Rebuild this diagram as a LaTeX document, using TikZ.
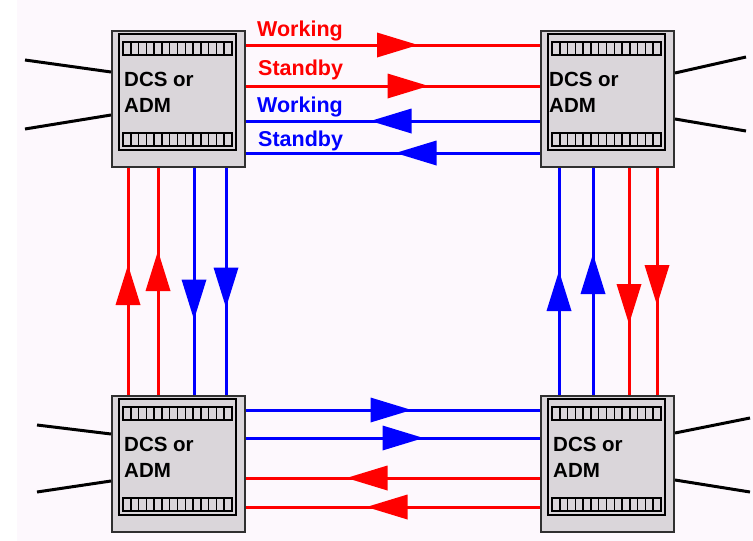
\documentclass[tikz,border=0pt]{standalone}
\usepackage{fontspec}
\setmainfont{Liberation Sans}
\definecolor{bg}{HTML}{FDF8FD}
\definecolor{boxfill}{HTML}{DAD6DA}
\definecolor{boxline}{HTML}{303030}
\definecolor{rd}{HTML}{FF0000}
\definecolor{bl}{HTML}{0000FF}
\tikzset{
  rl/.style={draw=rd, line width=3pt},
  bll/.style={draw=bl, line width=3pt},
  ext/.style={draw=black, line width=3pt},
  outerbox/.style={draw=boxline, fill=boxfill, line width=2pt, minimum width=133pt, minimum height=136pt, inner sep=0pt},
  boxtxt/.style={anchor=base west, inner sep=0pt, font=\fontsize{20.5}{20.5}\selectfont\bfseries},
  lbl/.style={anchor=base west, inner sep=0pt, font=\fontsize{21.5}{21.5}\selectfont\bfseries},
  arR/.pic={\fill (-20.5,-12.5) -- (20.5,0) -- (-20.5,12.5) -- cycle;},
  arL/.pic={\fill (20.5,-12.5) -- (-20.5,0) -- (20.5,12.5) -- cycle;},
  arU/.pic={\fill (-12.5,20) -- (0,-20) -- (12.5,20) -- cycle;},
  arD/.pic={\fill (-12.5,-20) -- (0,20) -- (12.5,-20) -- cycle;},
}
\newcommand{\dcsbox}[4]{%
  \begin{scope}[shift={(#2,#3)}]
    \node[outerbox] (#1) at (67.5,69) {};
    \draw[black, line width=2pt] (8,4) rectangle (125,120);
    \draw[black, line width=2pt] (12,12) rectangle (121,25);
    \draw[black, line width=2pt] (12,103) rectangle (121,116);
    \foreach \i in {1,...,13}{
      \draw[black, line width=1.5pt] ({12+\i*109/14},12) -- ({12+\i*109/14},25);
      \draw[black, line width=1.5pt] ({12+\i*109/14},103) -- ({12+\i*109/14},116);
    }
    \node[boxtxt] (#1-a) at (#4,56) {DCS or};
    \node[boxtxt] (#1-b) at (#4,82) {ADM};
  \end{scope}
}
\begin{document}
\begin{tikzpicture}[x=1pt,y=-1pt]
\useasboundingbox (0,0) rectangle (753,541);
\fill[bg] (0,0) rectangle (753,541);
\fill[white] (0,0) rectangle (17,541);

\dcsbox{TL}{111}{30}{13}
\dcsbox{TR}{540}{30}{9}
\dcsbox{BL}{111}{395}{13}
\dcsbox{BR}{540}{395}{13}

% top horizontal links
\draw[rl]  (TL.east |- 0,45)  -- (TR.west |- 0,45);
\draw[rl]  (TL.east |- 0,86)  -- (TR.west |- 0,86);
\draw[bll] (TL.east |- 0,121) -- (TR.west |- 0,121);
\draw[bll] (TL.east |- 0,153) -- (TR.west |- 0,153);
\pic[rd] at (397.5,45) {arR};
\pic[rd] at (408,86) {arR};
\pic[bl] at (391,121) {arL};
\pic[bl] at (416,153) {arL};
\node[lbl, text=rd] (l1) at (257,36) {Working};
\node[lbl, text=rd] (l2) at (258,75) {Standby};
\node[lbl, text=bl] (l3) at (257,112) {Working};
\node[lbl, text=bl] (l4) at (258,146) {Standby};

% bottom horizontal links
\draw[bll] (BL.east |- 0,410) -- (BR.west |- 0,410);
\draw[bll] (BL.east |- 0,438) -- (BR.west |- 0,438);
\draw[rl]  (BL.east |- 0,478) -- (BR.west |- 0,478);
\draw[rl]  (BL.east |- 0,507) -- (BR.west |- 0,507);
\pic[bl] at (391,410) {arR};
\pic[bl] at (403,438) {arR};
\pic[rd] at (367,478) {arL};
\pic[rd] at (387,507) {arL};

% left vertical links
\draw[rl]  (TL.south -| 128,0) -- (BL.north -| 128,0);
\draw[rl]  (TL.south -| 158,0) -- (BL.north -| 158,0);
\draw[bll] (TL.south -| 194,0) -- (BL.north -| 194,0);
\draw[bll] (TL.south -| 226,0) -- (BL.north -| 226,0);
\pic[rd] at (128,285) {arU};
\pic[rd] at (158,271) {arU};
\pic[bl] at (194,299.5) {arD};
\pic[bl] at (226,287.5) {arD};

% right vertical links
\draw[bll] (TR.south -| 559,0) -- (BR.north -| 559,0);
\draw[bll] (TR.south -| 593,0) -- (BR.north -| 593,0);
\draw[rl]  (TR.south -| 629,0) -- (BR.north -| 629,0);
\draw[rl]  (TR.south -| 657,0) -- (BR.north -| 657,0);
\pic[bl] at (559,291) {arU};
\pic[bl] at (593,274) {arU};
\pic[rd] at (629,304) {arD};
\pic[rd] at (657,285) {arD};

% external tributaries
\coordinate (e1) at (25,60);
\coordinate (e2) at (25,129);
\coordinate (e3) at (37,425);
\coordinate (e4) at (37,492);
\coordinate (e5) at (746,57);
\coordinate (e6) at (746,131);
\coordinate (e7) at (750,418);
\coordinate (e8) at (750,492);
\draw[ext] (e1) -- (TL.west |- 0,72);
\draw[ext] (e2) -- (TL.west |- 0,115);
\draw[ext] (e3) -- (BL.west |- 0,434);
\draw[ext] (e4) -- (BL.west |- 0,481);
\draw[ext] (e5) -- (TR.east |- 0,73);
\draw[ext] (e6) -- (TR.east |- 0,119);
\draw[ext] (e7) -- (BR.east |- 0,433);
\draw[ext] (e8) -- (BR.east |- 0,480);
\end{tikzpicture}
\end{document}
